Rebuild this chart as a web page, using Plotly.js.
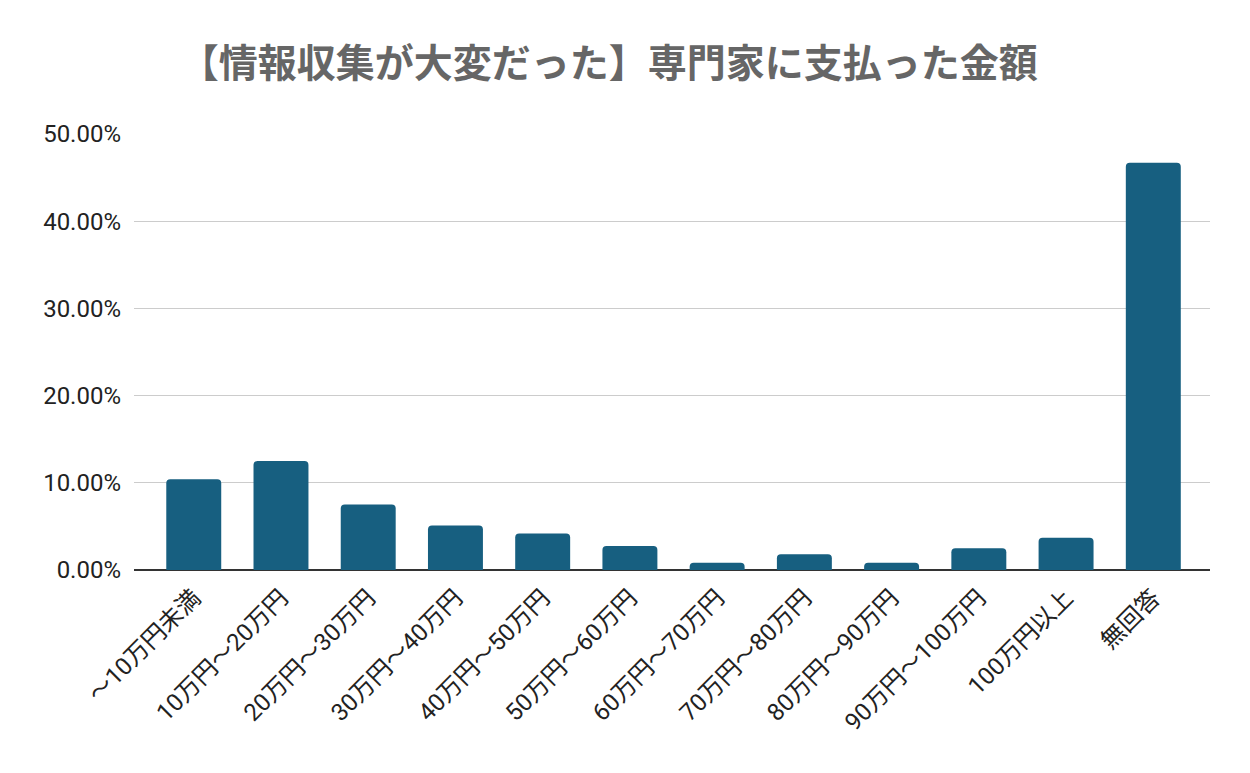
<!DOCTYPE html>
<html>
<head>
<meta charset="utf-8">
<script src="https://cdn.plot.ly/plotly-3.0.1.min.js"></script>
<style>html,body{margin:0;padding:0;background:#fff;}#chart{width:1250px;height:773px;}</style>
</head>
<body>
<div id="chart"></div>
<script>
const categories = ["〜10万円未満","10万円〜20万円","20万円〜30万円","30万円〜40万円","40万円〜50万円","50万円〜60万円","60万円〜70万円","70万円〜80万円","80万円〜90万円","90万円〜100万円","100万円以上","無回答"];
const values = [0.104, 0.125, 0.075, 0.051, 0.042, 0.0275, 0.0084, 0.018, 0.0084, 0.025, 0.037, 0.467];
const titleText = "【情報収集が大変だった】専門家に支払った金額";

const trace = {
  type: "bar",
  x: categories,
  y: values,
  marker: {color: "#175f80", cornerradius: 4},
  hoverinfo: "x+y"
};

const layout = {
  width: 1250, height: 773,
  margin: {l: 134, r: 40, t: 134, b: 203},
  paper_bgcolor: "#fff", plot_bgcolor: "#fff",
  bargap: 0.37,
  showlegend: false,
  title: {
    text: "<b>" + titleText + "</b>",
    font: {family: "Noto Sans CJK JP", size: 39, color: "#666666"},
    x: 0.487, xanchor: "center", y: 0.918, yanchor: "middle"
  },
  xaxis: {
    type: "category",
    range: [-0.685, 11.65],
    tickangle: -45,
    tickfont: {family: "Roboto, Noto Sans CJK JP", size: 24, color: "#222"},
    showgrid: false,
    showline: false,
    ticks: "",
    ticklabelstandoff: 8,
    automargin: false
  },
  yaxis: {
    range: [0, 0.5],
    dtick: 0.1,
    tickformat: ".2%",
    tickfont: {family: "Roboto", size: 24, color: "#222"},
    gridcolor: "#cccccc",
    gridwidth: 1,
    zeroline: true,
    zerolinecolor: "#333333",
    zerolinewidth: 2,
    showline: false,
    ticks: "",
    ticklabelstandoff: 12,
    automargin: false
  }
};

Plotly.newPlot("chart", [trace], layout, {displayModeBar: false, staticPlot: true});
</script>
</body>
</html>
